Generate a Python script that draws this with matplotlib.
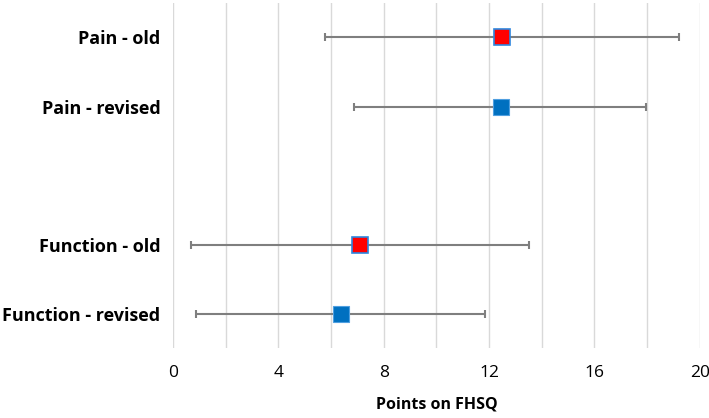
import matplotlib
matplotlib.use("Agg")
import matplotlib.pyplot as plt

labels = ["Pain - old", "Pain - revised", "Function - old", "Function - revised"]
means = [12.5, 12.45, 7.1, 6.37]
lower = [5.77, 6.88, 0.68, 0.89]
upper = [19.2, 17.97, 13.5, 11.83]
kinds = ["old", "revised", "old", "revised"]
ypos = [5, 4, 2, 1]

xticks = [0, 4, 8, 12, 16, 20]

plt.rcParams['font.family'] = ['Open Sans', 'DejaVu Sans']

fig = plt.figure(figsize=(7.09, 4.18), dpi=100)
ax = fig.add_axes([0.244, 0.167, 0.743, 0.826])

for m, lo, hi, k, y in zip(means, lower, upper, kinds, ypos):
    ax.errorbar([m], [y], xerr=[[m - lo], [hi - m]], fmt='none',
                ecolor='#7f7f7f', elinewidth=1.5, capsize=3, capthick=1.5, zorder=2)
    if k == "old":
        ax.plot([m], [y], marker='s', markersize=11.5, markerfacecolor='#ff0000',
                markeredgecolor='#2e86de', markeredgewidth=1.2, linestyle='none', zorder=3)
    else:
        ax.plot([m], [y], marker='s', markersize=12, markerfacecolor='#0070c0',
                markeredgecolor='#4f9fe0', markeredgewidth=0.8, linestyle='none', zorder=3)

ax.set_xlim(0, 20)
ax.set_ylim(0.5, 5.5)
ax.set_xticks(xticks)
ax.set_xticks(range(0, 21, 2), minor=True)
ax.set_xticklabels([str(t) for t in xticks], fontsize=12.5)
ax.set_yticks(ypos)
ax.set_yticklabels(labels, fontsize=13, fontweight='bold')
ax.grid(axis='x', which='both', color='#d9d9d9', linewidth=1)
ax.set_axisbelow(True)
ax.tick_params(axis='both', which='both', length=0)
ax.tick_params(axis='x', pad=12)
ax.tick_params(axis='y', pad=9)
for s in ax.spines.values():
    s.set_visible(False)
ax.set_xlabel("Points on FHSQ", fontsize=11.5, fontweight='bold', labelpad=11)

fig.savefig("out.png", dpi=100)
